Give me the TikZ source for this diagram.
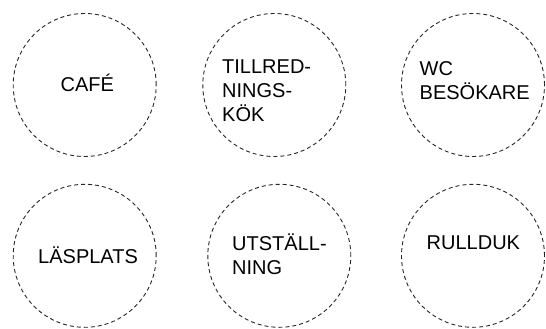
\documentclass[tikz,border=0pt]{standalone}
\usepackage{fontspec}
\setmainfont{Liberation Sans}
\begin{document}
\begin{tikzpicture}[x=1pt, y=-1pt,
          zone/.style={circle, draw=black!85, line width=0.9pt,
                       dash pattern=on 4pt off 3pt, minimum size=143pt, inner sep=0pt},
          lbl/.style={anchor=base west, inner sep=0pt, align=left,
                      font=\fontsize{20}{24}\selectfont}
        ]
        \useasboundingbox (0,0) rectangle (546,329);

        % Top row
        \node[zone] (cafe) at (84.7,  85) {};
        \node[zone] (kok)  at (274.3, 85) {};
        \node[zone] (wc)   at (473,   85) {};

        % Bottom row
        \node[zone] (las)  at (84.7,  255.8) {};
        \node[zone] (utst) at (279.3, 255.8) {};
        \node[zone] (rull) at (473,   255.8) {};

        % labels, placed on the baseline of their last line
        \node[lbl] (cafe-t) at (60.5,  91.7)  {CAFÉ};
        \node[lbl] (kok-t)  at (222,   121.7) {TILLRED-\\NINGS-\\KÖK};
        \node[lbl] (wc-t)   at (419.5, 99.3)  {WC\\BESÖKARE};
        \node[lbl] (las-t)  at (38,    263.3) {LÄSPLATS};
        \node[lbl] (utst-t) at (232,   274.3) {UTSTÄLL-\\NING};
        \node[lbl] (rull-t) at (426.5, 249.3) {RULLDUK};
      \end{tikzpicture}
\end{document}
